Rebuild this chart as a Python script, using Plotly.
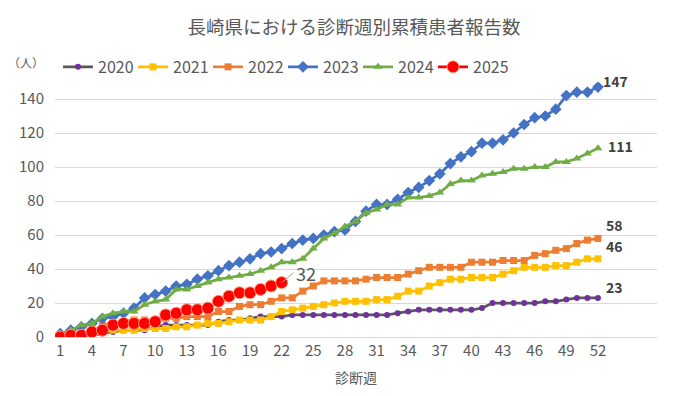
import plotly.graph_objects as go

weeks = list(range(1, 53))
y2020 = [0, 0, 1, 1, 2, 3, 4, 4, 4, 6, 7, 7, 7, 7, 7, 9, 10, 10, 11, 12,
         12, 12, 13, 13, 13, 13, 13, 13, 13, 13, 13, 13, 14, 15, 16, 16, 16, 16, 16, 16,
         17, 20, 20, 20, 20, 20, 21, 21, 22, 23, 23, 23]
y2021 = [0, 0, 1, 1, 3, 4, 4, 4, 5, 5, 5, 6, 6, 7, 8, 8, 9, 10, 10, 10,
         12, 15, 16, 17, 18, 19, 20, 21, 21, 21, 22, 22, 24, 27, 27, 30, 32, 34, 34, 35,
         35, 35, 37, 39, 41, 41, 41, 42, 42, 44, 46, 46]
y2022 = [0, 1, 2, 3, 7, 8, 9, 10, 10, 10, 11, 11, 12, 12, 12, 15, 15, 18, 19, 19,
         21, 23, 23, 27, 30, 33, 33, 33, 33, 34, 35, 35, 35, 37, 39, 41, 41, 41, 41, 44,
         44, 44, 45, 45, 45, 48, 49, 51, 52, 55, 57, 58]
y2023 = [2, 4, 6, 8, 11, 12, 14, 17, 23, 25, 27, 30, 31, 34, 36, 39, 42, 44, 46, 49,
         50, 52, 55, 57, 58, 60, 62, 63, 68, 74, 78, 78, 81, 85, 88, 92, 96, 102, 106, 109,
         114, 114, 116, 120, 125, 129, 130, 134, 142, 144, 144, 147]
y2024 = [2, 4, 7, 8, 12, 14, 15, 15, 19, 21, 22, 28, 28, 30, 32, 34, 35, 36, 37, 39,
         41, 44, 44, 46, 52, 58, 61, 65, 68, 73, 75, 78, 78, 82, 82, 83, 85, 90, 92, 92,
         95, 96, 97, 99, 99, 100, 100, 103, 103, 105, 108, 111]
y2025 = [0, 1, 1, 3, 4, 7, 8, 8, 8, 9, 13, 14, 16, 16, 17, 21, 24, 26, 26, 28, 30, 32]
xticks = weeks[::3]

JP = "Noto Sans CJK JP"
NUM = "Noto Sans CJK JP"
TXT = "#595959"

series = [
    ("2020", y2020, "#595959", "#7030A0", "circle", 6),
    ("2021", y2021, "#FFC000", "#FFC000", "square", 7),
    ("2022", y2022, "#ED7D31", "#ED7D31", "square", 7),
    ("2023", y2023, "#4472C4", "#4472C4", "diamond", 9),
    ("2024", y2024, "#70AD47", "#70AD47", "triangle-up", 8),
]
# label offsets (pixels) for end-of-series labels
label_shift = {"2020": (6, 11), "2021": (6, 13), "2022": (6, 13),
               "2023": (3, 6), "2024": (8, 2)}

fig = go.Figure()
for name, ys, lc, mc, sym, ms in series:
    fig.add_trace(go.Scatter(
        x=weeks, y=ys, name=name, mode="lines+markers",
        line=dict(color=lc, width=2.75),
        marker=dict(color=mc, symbol=sym, size=ms, line=dict(width=0)),
    ))
fig.add_trace(go.Scatter(
    x=weeks[:len(y2025)], y=y2025, name="2025", mode="lines+markers",
    line=dict(color="#FF0000", width=2.75),
    marker=dict(color="#FF0000", symbol="circle", size=12,
                line=dict(color="#FF9A7A", width=1)),
))

for name, ys, lc, mc, sym, ms in series:
    dx, dy = label_shift[name]
    fig.add_annotation(x=weeks[-1], y=ys[-1], text=f"<b>{ys[-1]}</b>",
                       xanchor="left", yanchor="middle",
                       xshift=dx, yshift=dy, showarrow=False,
                       font=dict(family=NUM, size=14, color="#404040"))
fig.add_annotation(x=len(y2025), y=y2025[-1], text=str(y2025[-1]),
                   showarrow=True, arrowhead=0, arrowwidth=1, arrowcolor="#A6A6A6",
                   ax=12, ay=-10, xanchor="left", yanchor="middle",
                   font=dict(family=NUM, size=18, color=TXT))
fig.add_annotation(x=-0.082, y=1.078, xref="paper", yref="paper", text="（人）",
                   showarrow=False, xanchor="left", yanchor="middle",
                   font=dict(family=JP, size=12, color=TXT))

fig.update_layout(
    width=682, height=396,
    margin=dict(l=55, r=25, t=82, b=59),
    paper_bgcolor="white", plot_bgcolor="white",
    font=dict(family=NUM, color=TXT, size=15),
    title=dict(text="長崎県における診断週別累積患者報告数", x=0.519, xanchor="center",
               y=0.93, yanchor="middle",
               font=dict(family=JP, size=18.5, color=TXT)),
    legend=dict(orientation="h", x=0.005, xanchor="left", y=1.059, yanchor="middle",
                entrywidth=30, entrywidthmode="pixels", itemwidth=30,
                font=dict(family=NUM, size=16, color=TXT),
                bgcolor="rgba(0,0,0,0)"),
    showlegend=True,
)
fig.update_xaxes(range=[0.5, 57.6], tickmode="array", tickvals=xticks,
                 showgrid=False, zeroline=False, showline=True, linecolor="#D9D9D9",
                 ticks="", tickfont=dict(family=NUM, size=15, color=TXT),
                 title=dict(text="診断週", font=dict(family=JP, size=14, color=TXT), standoff=14))
fig.update_yaxes(range=[0, 150], dtick=20, showgrid=True, gridcolor="#D9D9D9",
                 gridwidth=1, zeroline=False, showline=False, ticks="",
                 tickfont=dict(family=NUM, size=15, color=TXT), ticklabelstandoff=10)

fig.write_html("out.html", config={"displayModeBar": False},
               post_script="document.body.style.margin='0';")
